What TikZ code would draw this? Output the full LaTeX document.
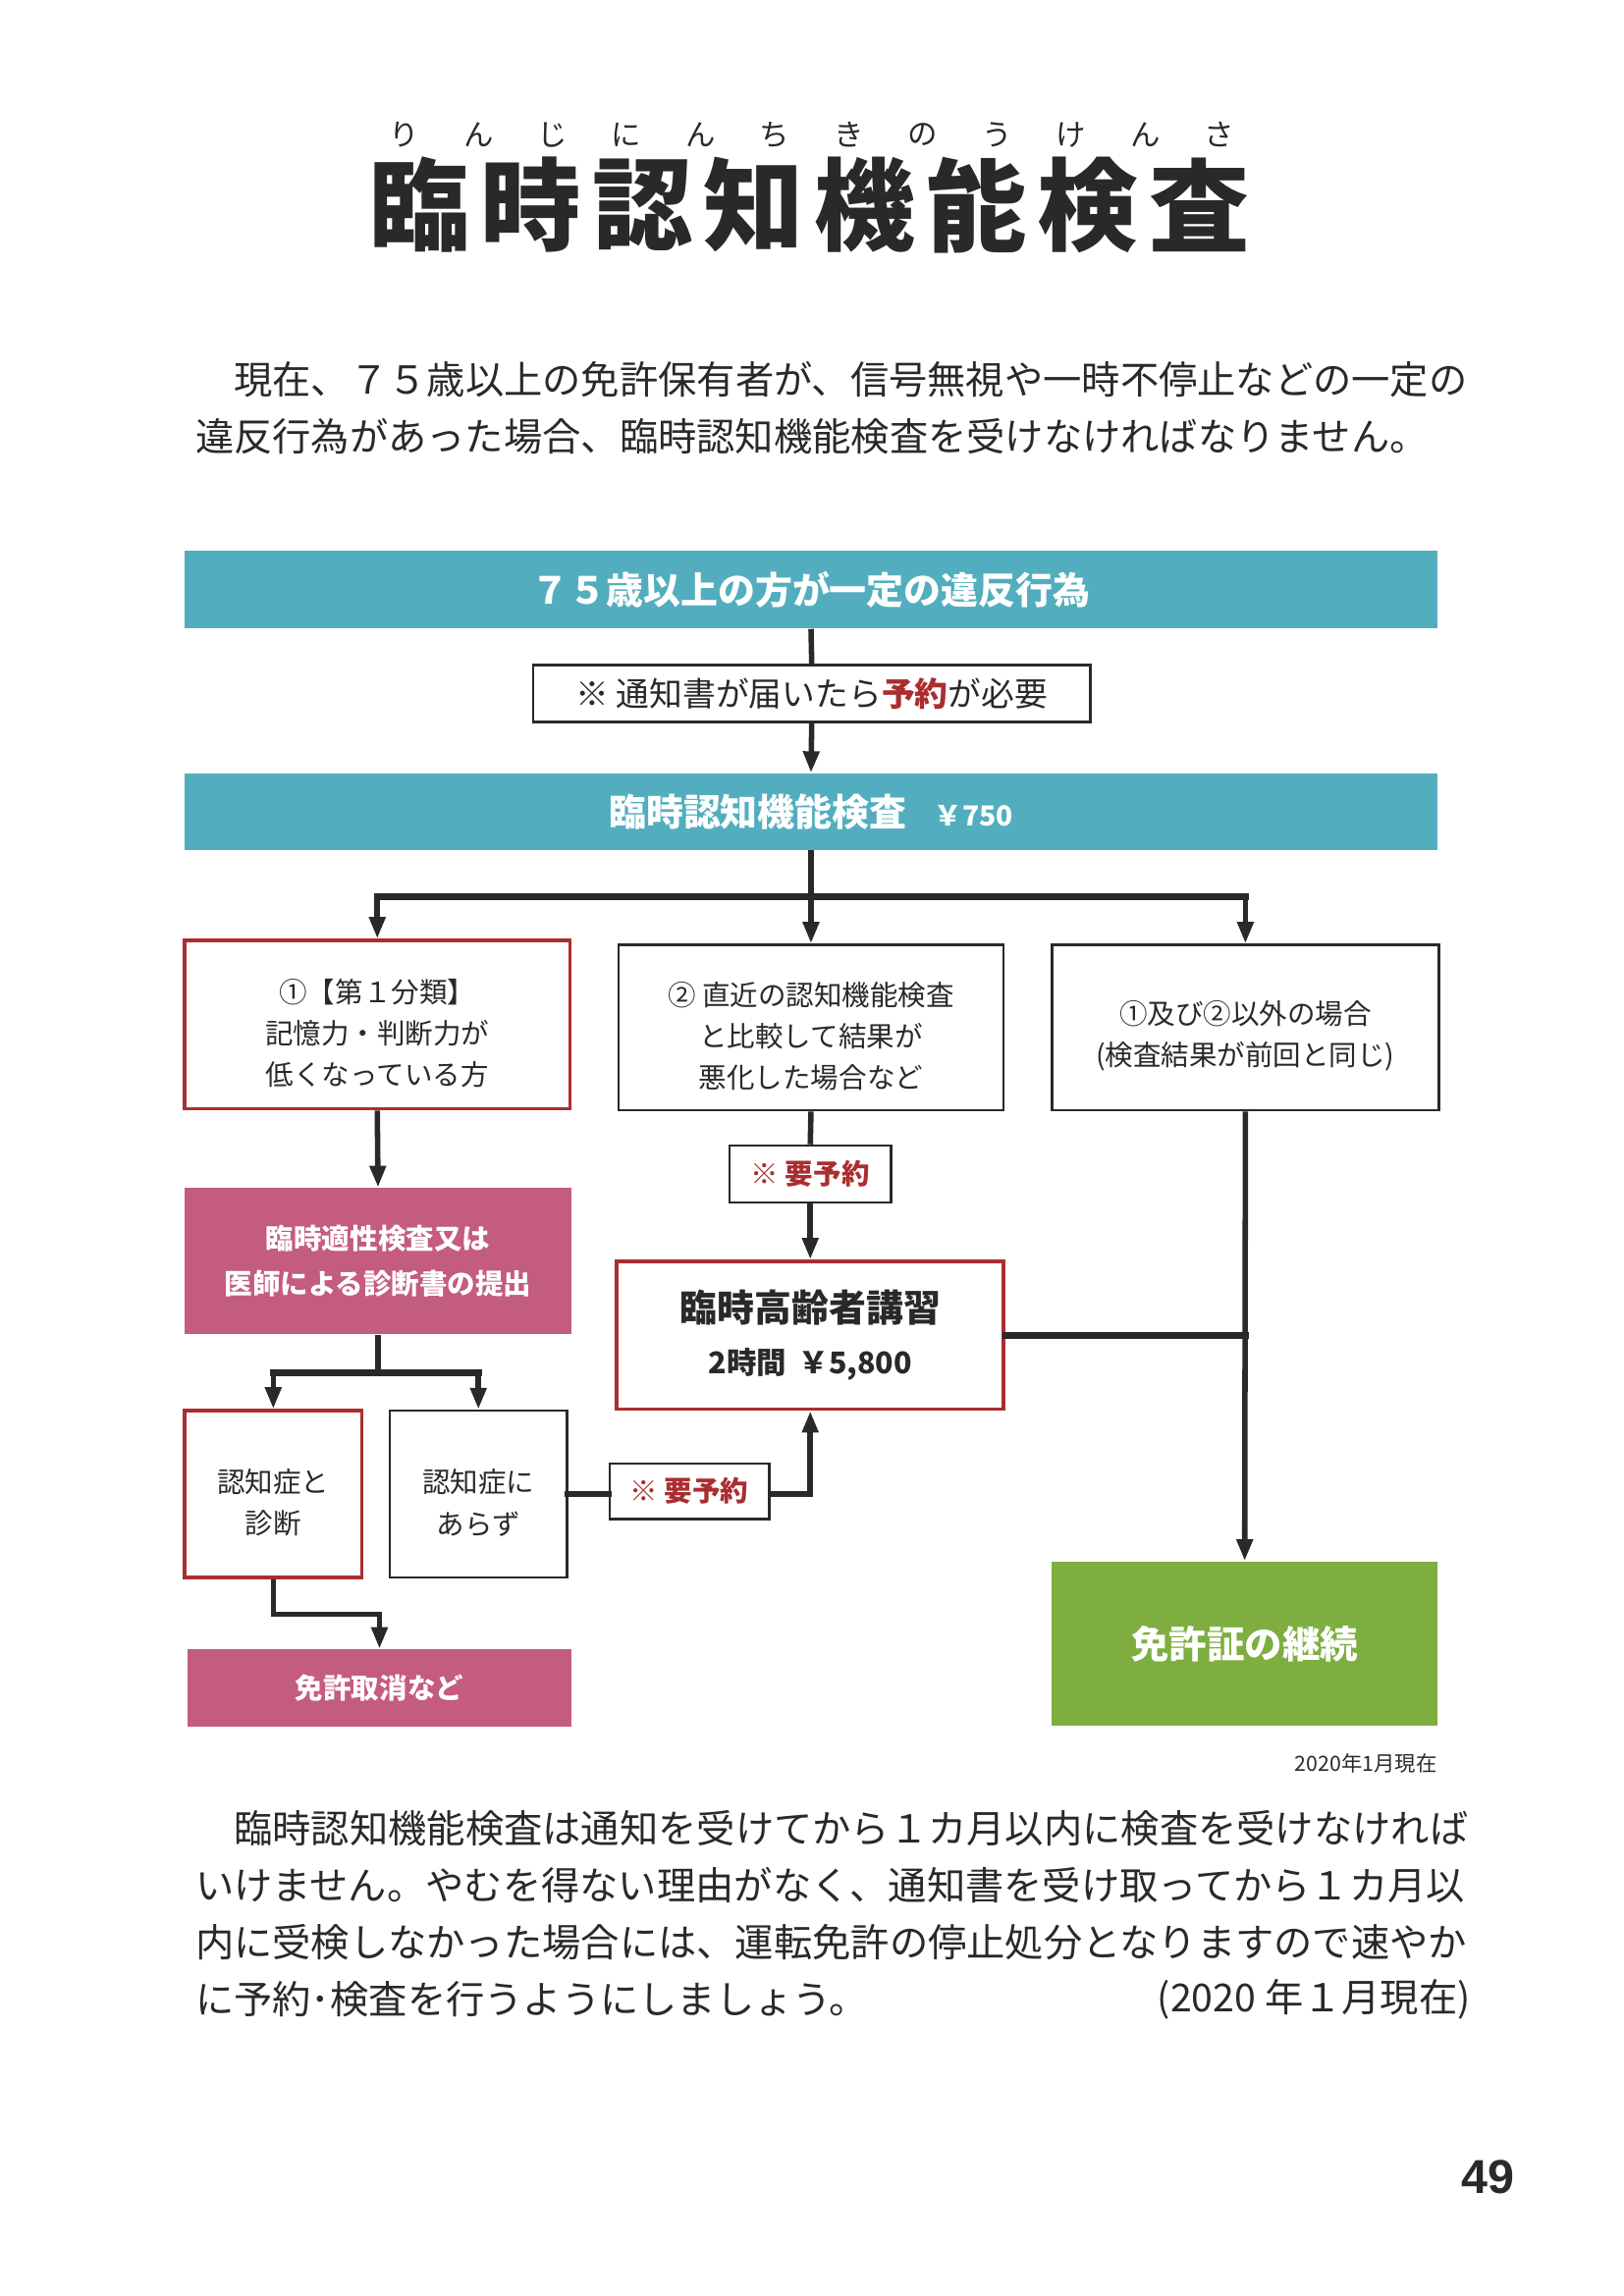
\documentclass[tikz,border=0pt]{standalone}
\usepackage{fontspec}
\setmainfont{Noto Sans CJK JP}
\newfontfamily\numfont{Liberation Sans}
\IfFontExistsTF{Noto Sans CJK JP Black}
	{\newfontfamily\titlefont{Noto Sans CJK JP Black}}
	{\newcommand{\titlefont}{\bfseries}}
\usetikzlibrary{arrows.meta}

\definecolor{kteal}{HTML}{52AEBE}
\definecolor{kpink}{HTML}{C45C7D}
\definecolor{kgreen}{HTML}{7EAE40}
\definecolor{kred}{HTML}{AA2E30}
\definecolor{ktext}{HTML}{2B2828}

\newcommand{\jsize}[2]{\fontsize{#1}{#2}\selectfont}

\begin{document}
\begin{tikzpicture}[x=0.18949mm, y=-0.18949mm, color=ktext,
	boxsize/.style 2 args={minimum width=#1*0.18949mm, minimum height=#2*0.18949mm},
	ruby/.style={inner sep=0, font=\jsize{11pt}{12pt}},
	titlechar/.style={inner sep=0, font=\jsize{37pt}{40pt}\titlefont},
	para/.style={inner sep=0, font=\jsize{14.19pt}{21pt}},
	tealbar/.style={fill=kteal, inner sep=0, text=white, font=\jsize{13.7pt}{16pt}\bfseries},
	wbox/.style={draw=ktext, line width=0.9pt, fill=white, inner sep=0, align=center, font=\jsize{10.3pt}{15.3pt}},
	rbox/.style={wbox, draw=kred, line width=1.3pt},
	boxtext/.style={inner sep=0, align=center, yshift=-1.1mm, font=\jsize{10.3pt}{15.3pt}},
	rsv/.style={wbox, text=kred, font=\jsize{10.3pt}{12pt}\bfseries},
	pinkbox/.style={fill=kpink, inner sep=0, text=white, align=center, font=\jsize{10.3pt}{16.4pt}\bfseries},
	greenbox/.style={fill=kgreen, inner sep=0, text=white, font=\jsize{13.9pt}{16pt}\bfseries},
	conn/.style={line width=2pt},
	arr/.style={conn, -{Triangle[length=2.8mm,width=2mm]}},
	bar/.style={line width=2.4pt, line cap=rect}]
	
	% Размер страницы
	\useasboundingbox (0,0) rectangle (1108.2,1567.4);
	
	% Заголовок и фуригана
	\foreach \k [count=\i from 0] in {り,ん,じ,に,ん,ち,き,の,う,け,ん,さ}
		\node[ruby] (r\i) at (276+50.55*\i, 92) {\k};
	\foreach \c [count=\i from 0] in {臨,時,認,知,機,能,検,査}
		\node[titlechar] (t\i) at (286.5+76*\i, 140) {\c};
	
	% Вводный текст
	\node[para, anchor=west] (p1) at (159.4,259) {現在、７５歳以上の免許保有者が、信号無視や一時不停止などの一定の};
	\node[para, anchor=west] (p2) at (133,298) {違反行為があった場合、臨時認知機能検査を受けなければなりません。};
	
	% Верхние полосы
	\node[tealbar, boxsize={855}{53}] (viol) at (553.5,402.5) {７５歳以上の方が一定の違反行為};
	\node[wbox, boxsize={380}{39}, font=\jsize{12.2pt}{14pt}] (notice) at (554,473.5) {※ 通知書が届いたら{\color{kred}\bfseries 予約}が必要};
	\node[tealbar, boxsize={855}{52}] (exam) at (553.5,554) {臨時認知機能検査\hspace{3.6mm}{\jsize{10.2pt}{14pt}￥750}};
	
	% Три случая
	\node[rbox, boxsize={263}{115}, label={[boxtext]center:{①【第１分類】\\記憶力・判断力が\\低くなっている方}}] (cat1) at (257.5,699.5) {};
	\node[wbox, boxsize={263}{113}, label={[boxtext]center:{② 直近の認知機能検査\\と比較して結果が\\悪化した場合など}}] (worse) at (553.5,701.5) {};
	\node[wbox, boxsize={264}{113}, label={[boxtext]center:{①及び②以外の場合\\(検査結果が前回と同じ)}}] (other) at (850,701.5) {};
	
	% Средний ряд
	\node[rsv, boxsize={110}{39}] (rsv1) at (553,801.5) {※ 要予約};
	\node[pinkbox, boxsize={264}{100}] (tekisei) at (258,861) {臨時適性検査又は\\医師による診断書の提出};
	\node[rbox, boxsize={264}{101}, font=\jsize{11pt}{19.4pt}\bfseries] (koshu) at (553,911.5) {{\jsize{13.7pt}{19.4pt}臨時高齢者講習}\\2時間\hspace{1.6mm}￥5,800};
	
	% Нижний ряд
	\node[rbox, boxsize={121}{114}, label={[boxtext]center:{認知症と\\診断}}] (dementia) at (186.5,1020) {};
	\node[wbox, boxsize={121}{114}, label={[boxtext]center:{認知症に\\あらず}}] (nodem) at (326.5,1020) {};
	\node[rsv, boxsize={109}{38}] (rsv2) at (470.5,1018) {※ 要予約};
	\node[pinkbox, boxsize={262}{53}] (revoke) at (259,1152.5) {免許取消など};
	\node[greenbox, boxsize={263}{112}] (keep) at (849.5,1122) {免許証の継続};
	\node[inner sep=0, anchor=east, font=\jsize{7.7pt}{9pt}] (date) at (981,1204) {2020年1月現在};
	
	% Точки ветвления
	\coordinate (split) at (553.5,612);
	\coordinate (fork) at (258,937);
	\coordinate (bend) at (186.5,1102);
	
	% Соединения
	\draw[conn] (viol.south) -- (notice.north);
	\draw[arr] (notice.south) -- (exam.north);
	\draw[conn] (exam.south) -- (split);
	\draw[bar] (cat1.north |- split) -- (other.north |- split);
	\draw[arr] (cat1.north |- split) -- (cat1.north);
	\draw[arr] (split) -- (worse.north);
	\draw[arr] (other.north |- split) -- (other.north);
	\draw[arr] (cat1.south) -- (tekisei.north);
	\draw[conn] (worse.south) -- (rsv1.north);
	\draw[arr] (rsv1.south) -- (koshu.north);
	\draw[arr] (other.south) -- (keep.north);
	\draw[bar] (koshu.east) -- (koshu.east -| other.south);
	\draw[conn] (tekisei.south) -- (fork);
	\draw[bar] (dementia.north |- fork) -- (nodem.north |- fork);
	\draw[arr] (dementia.north |- fork) -- (dementia.north);
	\draw[arr] (nodem.north |- fork) -- (nodem.north);
	\draw[bar] (nodem.east) -- (nodem.east -| rsv2.west);
	\draw[arr] (nodem.east -| rsv2.east) -| (koshu.south);
	\draw[arr] (dementia.south) -- (bend) -| (revoke.north);
	
	% Заключительный текст
	\node[para, anchor=west] (q1) at (159.4,1248) {臨時認知機能検査は通知を受けてから１カ月以内に検査を受けなければ};
	\node[para, anchor=west] (q2) at (133,1287) {いけません。やむを得ない理由がなく、通知書を受け取ってから１カ月以};
	\node[para, anchor=west] (q3) at (133,1326) {内に受検しなかった場合には、運転免許の停止処分となりますので速やか};
	\node[para, anchor=west] (q4) at (133,1365) {に予約･検査を行うようにしましょう。};
	\node[para, anchor=east] (q5) at (1004,1365) {(2020 年１月現在)};
	
	% Номер страницы
	\node[font=\numfont\bfseries\jsize{17.5pt}{20pt}] (page) at (1015.5,1486) {49};
\end{tikzpicture}
\end{document}
